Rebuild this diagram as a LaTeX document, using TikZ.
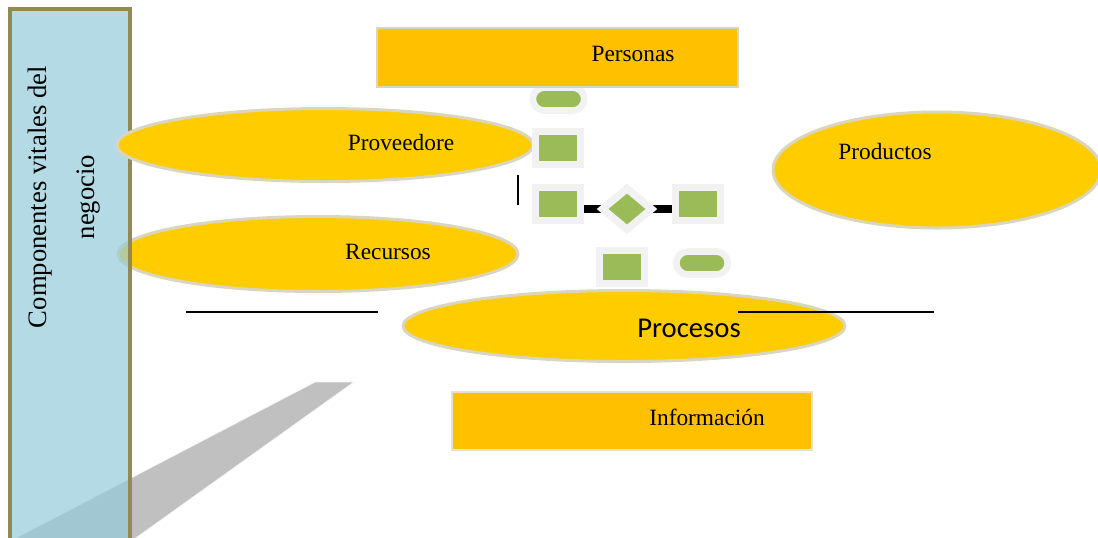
\documentclass[tikz,border=0pt]{standalone}
\usepackage{fontspec}
\setmainfont{Liberation Serif}
\newfontfamily\procfont{Carlito}
\usetikzlibrary{shapes.geometric}

\definecolor{panelblue}{RGB}{148,204,218}
\definecolor{panelrim}{RGB}{147,137,83}
\definecolor{gold}{RGB}{255,204,0}
\definecolor{amber}{RGB}{255,192,0}
\definecolor{rim}{RGB}{218,213,190}
\definecolor{leaf}{RGB}{155,187,89}
\definecolor{halo}{RGB}{242,242,242}
\definecolor{shade}{RGB}{192,192,192}

\tikzset{
  oval/.style={ellipse, draw=rim, fill=gold, line width=2.25pt, inner sep=0pt},
  banner/.style={rectangle, draw=rim, fill=amber, line width=1.5pt, inner sep=0pt},
  lbl/.style={inner sep=0pt, font=\fontsize{17.5}{21}\selectfont},
  block/.style={rectangle, draw=halo, fill=leaf, line width=5.6pt, inner sep=0pt,
    minimum width=44.5*0.75pt, minimum height=33.5*0.75pt},
  pill/.style={rectangle, rounded corners=8.6pt, draw=halo, fill=leaf, line width=5pt,
    inner sep=0pt, minimum width=51.5*0.75pt, minimum height=23*0.75pt},
  gem/.style={diamond, draw=halo, fill=leaf, line width=5.6pt, inner sep=0pt,
    minimum width=52*0.75pt, minimum height=44*0.75pt},
  bar/.style={draw=black, line width=5.6pt},
  rule/.style={draw=black, line width=1pt}
}

\begin{document}
\begin{tikzpicture}[x=0.75pt, y=-0.75pt]
\useasboundingbox (0,0) rectangle (1098,537);

% grey shadow wedge behind the side panel
\filldraw[fill=shade, draw=white!85!shade, line width=0.6pt]
  (315,382) -- (354,382) -- (133,540) -- (12,540) -- cycle;

% lower left oval, partly behind the panel
\node[oval, minimum width=400*0.75pt, minimum height=75*0.75pt] (recursos) at (318,254) {};
\node[lbl] (recursostxt) at (388,252) {Recursos};

% translucent side panel
\fill[panelblue, fill opacity=0.7] (10,9) rectangle (130,545);
\draw[panelrim, line width=2.4pt] (10,545) -- (10,9) -- (130,9) -- (130,545);
\node[rotate=90, align=center, inner sep=0pt, font=\fontsize{20}{36}\selectfont]
  (paneltxt) at (64,197) {Componentes vitales del\\negocio};

% upper left oval
\node[oval, minimum width=416*0.75pt, minimum height=73*0.75pt] (prov) at (325,145) {};
\node[lbl] (provtxt) at (401,143) {Proveedore};

% right oval
\node[oval, minimum width=328*0.75pt, minimum height=116*0.75pt] (prod) at (937,170) {};
\node[lbl] (prodtxt) at (885,152) {Productos};

% small flowchart glyph
\node[pill] (pilltop) at (558.5,99) {};
\node[block] (sqa) at (558,148) {};
\coordinate (barl) at (558,209);
\coordinate (barr) at (698,209);
\draw[bar] (barl) -- (barr);
\node[block] (sqb) at (558,204) {};
\node[block] (sqc) at (698,204) {};
\node[gem] (dia) at (627,209) {};
\node[block] (sqd) at (622,267) {};
\node[pill] (pillbot) at (702,263) {};

% top banner
\node[banner, minimum width=361*0.75pt, minimum height=59*0.75pt] (personas) at (557.5,57.5) {};
\node[lbl] (personastxt) at (633,54) {Personas};

% central oval
\node[oval, minimum width=442*0.75pt, minimum height=71*0.75pt] (procesos) at (624,326) {};
\node[inner sep=0pt, font=\procfont\fontsize{21.5}{25}\selectfont] (procesostxt) at (689,328) {Procesos};

% bottom banner
\node[banner, draw=rim!70!white, line width=1.2pt, minimum width=360*0.75pt, minimum height=58*0.75pt] (info) at (632,421) {};
\node[lbl] (infotxt) at (707,417) {Información};

% loose strokes
\coordinate (va) at (518,175);
\coordinate (vb) at (518,205);
\draw[black, line width=1.3pt] (va) -- (vb);
\coordinate (ha) at (186,312);
\coordinate (hb) at (378,312);
\draw[rule] (ha) -- (hb);
\coordinate (hc) at (738,312);
\coordinate (hd) at (934,312);
\draw[rule] (hc) -- (hd);
\end{tikzpicture}
\end{document}
